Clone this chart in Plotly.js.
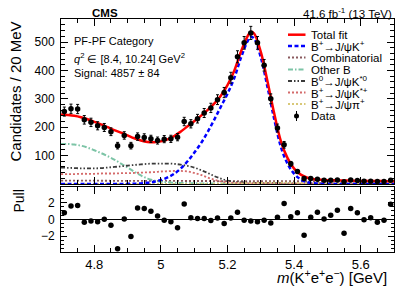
<!DOCTYPE html>
<html><head><meta charset="utf-8">
<script src="https://cdn.plot.ly/plotly-3.0.1.min.js"></script>
<style>html,body{margin:0;padding:0;background:#fff}#chart{width:407px;height:292px}</style>
</head><body><div id="chart"></div>
<script>
// Data bins (20 MeV) and counts
const binCenters = [4.71,4.73,4.75,4.77,4.79,4.81,4.83,4.85,4.87,4.89,4.91,4.93,4.95,4.97,4.99,5.01,5.03,5.05,5.07,5.09,5.11,5.13,5.15,5.17,5.19,5.21,5.23,5.25,5.27,5.29,5.31,5.33,5.35,5.37,5.39,5.41,5.43,5.45,5.47,5.49,5.51,5.53,5.55,5.57,5.59,5.61,5.63,5.65,5.67,5.69];
const dataCounts = [255,265,264,226,217,205,199,184,135,171,135,167,164,159,153,158,159,165,220,212,230,250,268,297,322,374,448,497,532,497,418,300,197,138,71,44,19,19,17,13,13,14,8,14,12,10,10,9,9,13];
const pulls = [0.8,1.6,1.65,-0.36,-0.2,-0.3,0.0,-0.7,-3.5,0.05,-2.04,1.35,1.3,0.97,0.4,-0.1,-0.3,-1.0,1.83,0.2,0.1,0.1,-0.15,0.15,-0.5,0.15,0.85,-0.1,-0.2,-0.3,-0.1,-0.45,0.25,1.9,0.3,0.8,-1.9,0.25,0.85,0.05,0.5,1.1,-1.65,1.3,0.8,-0.05,0.2,-0.35,-0.1,1.8];

// Fit curves sampled
const fitX = [4.70,4.72,4.74,4.76,4.78,4.80,4.82,4.84,4.86,4.88,4.90,4.92,4.94,4.96,4.98,5.00,5.02,5.04,5.06,5.08,5.10,5.12,5.14,5.16,5.18,5.20,5.22,5.24,5.26,5.27,5.28,5.30,5.32,5.34,5.36,5.38,5.40,5.42,5.44,5.46,5.48,5.50,5.52,5.54,5.56,5.58,5.60,5.62,5.64,5.66,5.68,5.70];
const totalFit = [245,243,240,235,228,219,210,200,190,181,171,161,153,148,147,150,157,169,185,203,221,240,260,283,311,348,398,465,520,536,530,465,362,250,152,92,54,33,22,17,15,13.5,13,12.5,12,11.5,11,11,10.5,10.5,10,10];
const sigK = [0,0,0,0,0,0,0,0,0,0,0.5,1,2,4,8,14,23,36,55,80,110,143,182,226,272,318,372,443,502,518,512,446,342,230,132,72,36,16,6,2.5,1,0.5,0.2,0.1,0,0,0,0,0,0,0,0];
const combinatorial = [12.0,12.0,11.9,11.8,11.7,11.6,11.5,11.4,11.3,11.2,11.1,11.0,11.0,10.9,10.9,10.8,10.8,10.7,10.7,10.6,10.6,10.5,10.5,10.4,10.4,10.3,10.3,10.2,10.2,10.2,10.1,10.1,10.0,10.0,9.9,9.9,9.8,9.8,9.7,9.7,9.6,9.6,9.5,9.5,9.4,9.4,9.3,9.3,9.2,9.2,9.1,9.1];
const otherB = [141,141,139,135,128,119,109,98,86,72,58,43,30,19,12,8,6,4.5,3.5,3,2.5,2.2,2,1.8,1.6,1.4,1.3,1.2,1.1,1.1,1.0,1.0,0.9,0.9,0.8,0.8,0.7,0.7,0.7,0.6,0.6,0.6,0.6,0.5,0.5,0.5,0.5,0.5,0.5,0.5,0.5,0.5];
const b0Kstar0 = [58,57,56,55,55,55,56,58,60,62,65,67,69,71,72,72,72,71,68,64,58,49,39,28,19,12,8,6,5,4.5,4,3.5,3,2.7,2.5,2.3,2.1,2.0,1.9,1.8,1.7,1.6,1.5,1.4,1.3,1.2,1.2,1.1,1.1,1.0,1.0,1.0];
const bpKstarp = [35,35,35,36,36,36,37,37,37,38,38,39,40,41,42,44,45,46,46,44,39,32,23,15,9,6,4,3,2.5,2.3,2.2,2,1.8,1.6,1.5,1.4,1.3,1.2,1.1,1.0,1.0,0.9,0.9,0.8,0.8,0.8,0.7,0.7,0.7,0.6,0.6,0.6];
const bpPi = [0,0,0,0,0,0,0,0,0,0,0,0,0,0,0,0.1,0.1,0.2,0.2,0.3,0.4,0.5,0.6,0.8,1.0,1.3,1.7,2.2,2.8,3.1,3.4,4.0,4.5,4.8,4.8,4.5,4.0,3.4,2.8,2.2,1.7,1.2,0.9,0.6,0.4,0.3,0.2,0.1,0.1,0.1,0,0];

const legendNames = ['Total fit','B<sup>+</sup>→J/ψK<sup>+</sup>','Combinatorial','Other B','B<sup>0</sup>→J/ψK<sup>*0</sup>','B<sup>+</sup>→J/ψK<sup>*+</sup>','B<sup>+</sup>→J/ψπ<sup>+</sup>','Data'];

const FONT = 'Liberation Sans, Arial, sans-serif';
const comps = [
  {y: combinatorial, color:'#8a5a5e', dash:'2px,2px', w:1.8},
  {y: otherB, color:'#7cc4a6', dash:'5px,2px,1.5px,2px', w:2},
  {y: b0Kstar0, color:'#3a3a3a', dash:'4px,2px,1.5px,2px,1.5px,2px', w:1.8},
  {y: bpKstarp, color:'#d46a6a', dash:'2px,2px', w:1.8},
  {y: bpPi, color:'#d8c878', dash:'2px,2px', w:1.8}
];
const traces = [];
comps.forEach(c => traces.push({x: fitX, y: c.y, type:'scatter', mode:'lines', line:{color:c.color, dash:c.dash, width:c.w, shape:'spline'}, xaxis:'x', yaxis:'y', hoverinfo:'skip'}));
traces.push({x: fitX, y: sigK, type:'scatter', mode:'lines', line:{color:'#0000ff', dash:'4px,2.5px', width:2.5, shape:'spline'}, xaxis:'x', yaxis:'y'});
traces.push({x: fitX, y: totalFit, type:'scatter', mode:'lines', line:{color:'#ff0000', width:2.5, shape:'spline'}, xaxis:'x', yaxis:'y'});
traces.push({x: binCenters, y: dataCounts, type:'scatter', mode:'markers', marker:{color:'#000', size:5.5},
  error_y:{type:'sqrt', color:'#000', thickness:1, width:1.5}, xaxis:'x', yaxis:'y'});
traces.push({x: binCenters, y: pulls, type:'scatter', mode:'markers', marker:{color:'#000', size:5.5}, xaxis:'x2', yaxis:'y2'});

const L = 61, R = 394, T = 19, B = 252;
const px = v => (v - L) / (R - L);
const py = v => (B - v) / (B - T);

const annotations = [
  {text:'<b>CMS</b>', x:px(104.5), y:py(12.7), xanchor:'center', yanchor:'middle', font:{size:11.5}},
  {text:'41.6 fb<sup>-1</sup> (13 TeV)', x:1, y:py(13.3), xanchor:'right', yanchor:'middle', font:{size:11.5}},
  {text:'PF-PF Category', x:px(71.5), y:py(40.7), xanchor:'left', yanchor:'middle', font:{size:11}},
  {text:'<i>q</i><sup>2</sup> ∈ [8.4, 10.24] GeV<sup>2</sup>', x:px(71.5), y:py(57.5), xanchor:'left', yanchor:'middle', font:{size:11}},
  {text:'Signal: 4857 ± 84', x:px(71.5), y:py(72.7), xanchor:'left', yanchor:'middle', font:{size:11}},
  {text:'Candidates / 20 MeV', x:px(15), y:py(91.5), textangle:-90, xanchor:'center', yanchor:'middle', font:{size:15}},
  {text:'Pull', x:px(18), y:py(201.5), textangle:-90, xanchor:'center', yanchor:'middle', font:{size:14}},
  {text:'<i>m</i>(K<sup>+</sup>e<sup>+</sup>e<sup>−</sup>) [GeV]', x:px(388.5), y:py(276.5), xanchor:'right', yanchor:'middle', font:{size:15}}
];
const shapes = [];
const legRows = [34.7, 46, 57.5, 69.5, 81, 92.5, 104, 116];
const legStyles = [
  {color:'#ff0000', dash:'solid', w:2.5},
  {color:'#0000ff', dash:'4px,2.5px', w:2.5},
  {color:'#8a5a5e', dash:'2px,2px', w:1.8},
  {color:'#7cc4a6', dash:'5px,2px,1.5px,2px', w:2},
  {color:'#3a3a3a', dash:'4px,2px,1.5px,2px,1.5px,2px', w:1.8},
  {color:'#d46a6a', dash:'2px,2px', w:1.8},
  {color:'#d8c878', dash:'2px,2px', w:1.8}
];
legNames = legendNames;
legRows.forEach((r, i) => {
  annotations.push({text: legendNames[i], x:px(309), y:py(r), xanchor:'left', yanchor:'middle', font:{size:11.5}});
  if (i < 7) {
    const s = legStyles[i];
    shapes.push({type:'line', xref:'paper', yref:'paper', x0:px(288), x1:px(305.5), y0:py(r), y1:py(r), line:{color:s.color, dash:s.dash, width:s.w}});
  } else {
    shapes.push({type:'line', xref:'paper', yref:'paper', x0:px(296.5), x1:px(296.5), y0:py(r-5), y1:py(r+5), line:{color:'#000', width:1}});
    shapes.push({type:'circle', xref:'paper', yref:'paper', x0:px(294), x1:px(299), y0:py(r-2.5), y1:py(r+2.5), fillcolor:'#000', line:{color:'#000', width:0}});
  }
});

const axBase = {showline:true, linecolor:'#000', linewidth:1, mirror:'ticks', ticks:'inside', tickcolor:'#000', showgrid:false, zeroline:false, tickfont:{size:12, color:'#000'}};
const layout = {
  width:407, height:292, margin:{l:L, r:407-R, t:T, b:292-B}, showlegend:false,
  paper_bgcolor:'#fff', plot_bgcolor:'#fff', font:{family:FONT, color:'#000'},
  xaxis: Object.assign({}, axBase, {range:[4.7,5.7], domain:[0,1], anchor:'y', showticklabels:false, tickvals:[4.8,5.0,5.2,5.4,5.6], ticklen:7, minor:{dtick:0.05, tick0:4.7, ticklen:4, ticks:'inside', tickcolor:'#000'}}),
  yaxis: Object.assign({}, axBase, {range:[0,581], domain:[py(184),1], anchor:'x', tickvals:[100,200,300,400,500], ticktext:['100','200','300','400','500'], ticklen:7, ticklabelstandoff:3, tickfont:{size:12}, minor:{dtick:20, tick0:0, ticklen:4, ticks:'inside', tickcolor:'#000'}}),
  xaxis2: Object.assign({}, axBase, {range:[4.7,5.7], domain:[0,1], anchor:'y2', tickvals:[4.8,5.0,5.2,5.4,5.6], ticktext:['4.8','5','5.2','5.4','5.6'], ticklen:7, tickfont:{size:13}, minor:{dtick:0.05, tick0:4.7, ticklen:4, ticks:'inside', tickcolor:'#000'}}),
  yaxis2: Object.assign({}, axBase, {range:[-3.9,3.9], domain:[0,py(186.7)], anchor:'x2', tickvals:[-2,0,2], ticktext:['−2','0','2'], ticklen:6, ticklabelstandoff:3, tickfont:{size:12}, zeroline:true, zerolinecolor:'#000', zerolinewidth:1, minor:{dtick:0.5, tick0:0, ticklen:3, ticks:'inside', tickcolor:'#000'}}),
  annotations: annotations.map(a => Object.assign({xref:'paper', yref:'paper', showarrow:false}, a)),
  shapes: shapes
};
Plotly.newPlot('chart', traces, layout, {staticPlot:true, displayModeBar:false});
</script></body></html>
